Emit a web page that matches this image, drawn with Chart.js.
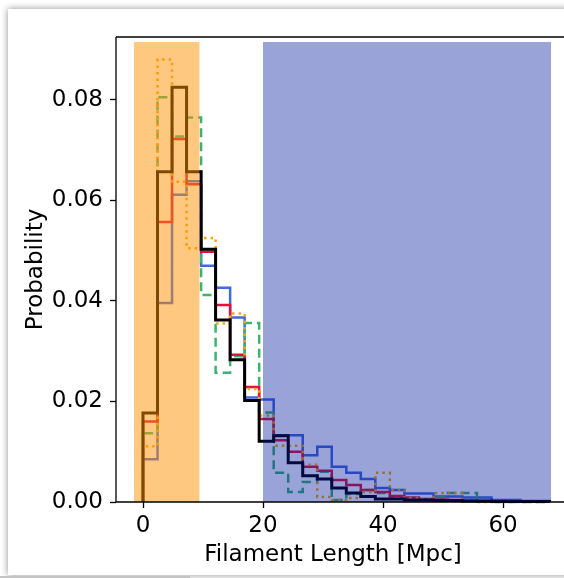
<!DOCTYPE html>
<html>
<head>
<meta charset="utf-8">
<script src="https://cdn.jsdelivr.net/npm/chart.js@4.4.0/dist/chart.umd.min.js"></script>
<style>
    html, body { margin: 0; padding: 0; background: #fff; overflow: hidden; }
    #wrap { position: relative; width: 564px; height: 578px; overflow: hidden; }
    #card { position: absolute; left: 8px; top: 9px; width: 640px; height: 566px; background: #fff; box-shadow: 0 0 7px rgba(0, 0, 0, 0.45); }
    #edge { position: absolute; left: 0; top: 576px; width: 190px; height: 2px; background: #c4c4c4; }
    canvas { position: absolute; left: 0; top: 0; }
</style>
</head>
<body>
<div id="wrap">
    <div id="card"></div>
    <div id="edge"></div>
    <canvas id="histChart" width="564" height="578"></canvas>
</div>
<script>
// bin edges of the histograms (Mpc)
const binEdges = [0, 2.42, 4.84, 7.26, 9.68, 12.1, 14.52, 16.94, 19.36, 21.78, 24.2, 26.62, 29.04, 31.46,
    33.88, 36.3, 38.72, 41.14, 43.56, 45.98, 48.4, 50.82, 53.24, 55.66, 58.08, 60.5, 62.92, 65.34, 67.76];

// probability per bin, one list per curve
const blackVals = [0.0177, 0.0657, 0.0825, 0.0657, 0.0503, 0.0362, 0.0283, 0.0202, 0.0121, 0.0132, 0.0078, 0.0052, 0.0046, 0.0028,
    0.0018, 0.0011, 0.0006, 0.0006, 0.0004, 0.0004, 0.0003, 0.0003, 0.0002, 0.0002, 0.0001, 0.0001, 0.0001, 0.0001];
const blueVals = [0.0085, 0.0396, 0.0611, 0.0638, 0.0470, 0.0426, 0.0367, 0.0208, 0.0204, 0.0133, 0.0133, 0.0093, 0.0110, 0.0070,
    0.0058, 0.0046, 0.0028, 0.0024, 0.0017, 0.0017, 0.0011, 0.0011, 0.0009, 0.0009, 0.0004, 0.0004, 0.0002, 0.0002];
const redVals = [0.0160, 0.0557, 0.0722, 0.0632, 0.0498, 0.0392, 0.0293, 0.0229, 0.0165, 0.0123, 0.0100, 0.0070, 0.0062, 0.0044,
    0.0034, 0.0024, 0.0020, 0.0012, 0.0009, 0.0006, 0.0005, 0.0004, 0.0003, 0.0002, 0.0002, 0.0001, 0.0001, 0.0001];
const greenVals = [0.0137, 0.0805, 0.0727, 0.0765, 0.0412, 0.0257, 0.0290, 0.0356, 0.0178, 0.0058, 0.0020, 0.0040, 0.0060, 0.0004,
    0.0016, 0.0024, 0.0018, 0.0008, 0.0006, 0.0004, 0.0010, 0.0018, 0.0018, 0.0002, 0, 0, 0, 0];
const orangeVals = [0.0111, 0.0880, 0.0637, 0.0505, 0.0525, 0.0355, 0.0375, 0.0225, 0.0172, 0.0112, 0.0112, 0.0074, 0.0010, 0.0004,
    0.0008, 0.0020, 0.0058, 0.0024, 0.0008, 0.0006, 0.0018, 0.0018, 0.0004, 0, 0, 0, 0, 0];

// highlighted length ranges (Mpc)
const shadeStart = [-1.5, 20];
const shadeEnd = [9.4, 68.0];
const shadeTop = 0.0915;

const xTicks = [0, 20, 40, 60];
const yTicks = [0, 0.02, 0.04, 0.06, 0.08];

const FONT = { family: 'DejaVu Sans', size: 23 };

function histPoints(vals) {
    let pts = [{ x: binEdges[0], y: 0 }];
    vals.forEach((v, i) => pts.push({ x: binEdges[i], y: v }));
    pts.push({ x: binEdges[vals.length], y: 0 });
    return pts;
}

function stepSet(vals, color, width, dash, order) {
    return {
        data: histPoints(vals),
        borderColor: color,
        borderWidth: width,
        borderDash: dash,
        borderCapStyle: 'butt',
        stepped: true,
        pointRadius: 0,
        fill: false,
        clip: false,
        order: order
    };
}

const shadePlugin = {
    id: 'shade',
    afterDatasetsDraw(chart) {
        const ctx = chart.ctx;
        const x = chart.scales.x, y = chart.scales.y;
        const colors = ['rgba(255, 146, 4, 0.5)', 'rgba(0, 25, 155, 0.4)'];
        ctx.save();
        shadeStart.forEach((s, i) => {
            const x0 = x.getPixelForValue(s), x1 = x.getPixelForValue(shadeEnd[i]);
            const y0 = y.getPixelForValue(shadeTop), y1 = y.getPixelForValue(0);
            ctx.fillStyle = colors[i];
            ctx.fillRect(x0, y0, x1 - x0, y1 - y0);
        });
        ctx.restore();
    },
    afterDraw(chart) {
        const ctx = chart.ctx;
        const a = chart.chartArea;
        ctx.save();
        ctx.strokeStyle = '#000';
        ctx.lineWidth = 1.3;
        ctx.beginPath();
        ctx.moveTo(a.left, a.top);
        ctx.lineTo(chart.width, a.top);
        ctx.moveTo(a.left, a.bottom);
        ctx.lineTo(chart.width, a.bottom);
        ctx.moveTo(a.left, a.top);
        ctx.lineTo(a.left, a.bottom);
        ctx.stroke();
        ctx.restore();
    }
};

new Chart(document.getElementById('histChart'), {
    type: 'line',
    data: {
        datasets: [
            stepSet(blackVals, '#000000', 3, [], 0),
            stepSet(orangeVals, '#ffa500', 2.5, [2.5, 4], 1),
            stepSet(redVals, '#dc143c', 2.5, [], 2),
            stepSet(greenVals, '#3cb371', 2.5, [9, 5], 3),
            stepSet(blueVals, '#4169e1', 2.5, [], 4)
        ]
    },
    options: {
        responsive: false,
        animation: false,
        devicePixelRatio: 1,
        layout: { padding: { top: 37, right: 14, left: 0, bottom: 0 } },
        plugins: {
            legend: { display: false },
            tooltip: { enabled: false }
        },
        scales: {
            x: {
                type: 'linear',
                min: -4.5,
                max: 67.83,
                afterFit: s => { s.height = 76; },
                afterBuildTicks: s => { s.ticks = xTicks.map(v => ({ value: v })); },
                grid: { drawOnChartArea: false, drawTicks: true, tickLength: 6, color: '#000', tickWidth: 1.3 },
                border: { display: false },
                ticks: { font: FONT, color: '#000', padding: 4, maxRotation: 0, callback: v => String(v) },
                title: { display: true, text: 'Filament Length [Mpc]', font: FONT, color: '#000', padding: { top: 0, bottom: 9 } }
            },
            y: {
                min: 0,
                max: 0.0925,
                afterFit: s => { s.width = 116; },
                afterBuildTicks: s => { s.ticks = yTicks.map(v => ({ value: v })); },
                grid: { drawOnChartArea: false, drawTicks: true, tickLength: 6, color: '#000', tickWidth: 1.3 },
                border: { display: false },
                ticks: { font: FONT, color: '#000', padding: 7, callback: v => v.toFixed(2) },
                title: { display: true, text: 'Probability', font: FONT, color: '#000', padding: { top: 22, bottom: 0 } }
            }
        }
    },
    plugins: [shadePlugin]
});
</script>
</body>
</html>
